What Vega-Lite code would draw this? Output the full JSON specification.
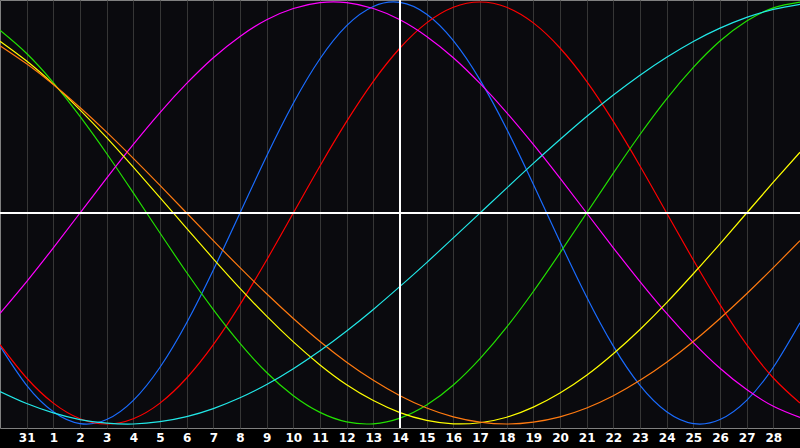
{
  "$schema": "https://vega.github.io/schema/vega-lite/v6.json",
  "width": 800,
  "height": 428,
  "padding": {"left": 0, "top": 0, "right": 0, "bottom": 20},
  "autosize": {"type": "none"},
  "background": "#000000",
  "config": {
    "view": {"fill": "#0a0a0e", "stroke": "#808080", "strokeWidth": 1},
    "axisX": {
      "labelOverlap": false,
      "labelFlush": false,
      "labelColor": "#ffffff",
      "labelFont": "DejaVu Sans",
      "labelFontWeight": "bold",
      "labelFontSize": 12,
      "labelPadding": 4,
      "labelDx": -2,
      "grid": true,
      "gridColor": "#363636",
      "gridWidth": 1,
      "ticks": false,
      "domain": false,
      "title": null
    }
  },
  "datasets": {
    "curves": [
      {"d": -1, "s": "B", "v": -0.631}, {"d": 0, "s": "B", "v": -0.817}, {"d": 1, "s": "B", "v": -0.942}, {"d": 2, "s": "B", "v": -0.998}, {"d": 3, "s": "B", "v": -0.979}, {"d": 4, "s": "B", "v": -0.888}, {"d": 5, "s": "B", "v": -0.731}, {"d": 6, "s": "B", "v": -0.52}, {"d": 7, "s": "B", "v": -0.27}, {"d": 8, "s": "B", "v": 0}, {"d": 9, "s": "B", "v": 0.27}, {"d": 10, "s": "B", "v": 0.52}, {"d": 11, "s": "B", "v": 0.731}, {"d": 12, "s": "B", "v": 0.888}, {"d": 13, "s": "B", "v": 0.979}, {"d": 14, "s": "B", "v": 0.998}, {"d": 15, "s": "B", "v": 0.942}, {"d": 16, "s": "B", "v": 0.817}, {"d": 17, "s": "B", "v": 0.631}, {"d": 18, "s": "B", "v": 0.398}, {"d": 19, "s": "B", "v": 0.136}, {"d": 20, "s": "B", "v": -0.136}, {"d": 21, "s": "B", "v": -0.398}, {"d": 22, "s": "B", "v": -0.631}, {"d": 23, "s": "B", "v": -0.817}, {"d": 24, "s": "B", "v": -0.942}, {"d": 25, "s": "B", "v": -0.998}, {"d": 26, "s": "B", "v": -0.979}, {"d": 27, "s": "B", "v": -0.888}, {"d": 28, "s": "B", "v": -0.731}, {"d": 29, "s": "B", "v": -0.52},
      {"d": -1, "s": "R", "v": -0.624}, {"d": 0, "s": "R", "v": -0.782}, {"d": 1, "s": "R", "v": -0.901}, {"d": 2, "s": "R", "v": -0.975}, {"d": 3, "s": "R", "v": -1}, {"d": 4, "s": "R", "v": -0.975}, {"d": 5, "s": "R", "v": -0.901}, {"d": 6, "s": "R", "v": -0.782}, {"d": 7, "s": "R", "v": -0.624}, {"d": 8, "s": "R", "v": -0.434}, {"d": 9, "s": "R", "v": -0.223}, {"d": 10, "s": "R", "v": 0}, {"d": 11, "s": "R", "v": 0.223}, {"d": 12, "s": "R", "v": 0.434}, {"d": 13, "s": "R", "v": 0.624}, {"d": 14, "s": "R", "v": 0.782}, {"d": 15, "s": "R", "v": 0.901}, {"d": 16, "s": "R", "v": 0.975}, {"d": 17, "s": "R", "v": 1}, {"d": 18, "s": "R", "v": 0.975}, {"d": 19, "s": "R", "v": 0.901}, {"d": 20, "s": "R", "v": 0.782}, {"d": 21, "s": "R", "v": 0.624}, {"d": 22, "s": "R", "v": 0.434}, {"d": 23, "s": "R", "v": 0.223}, {"d": 24, "s": "R", "v": 0}, {"d": 25, "s": "R", "v": -0.223}, {"d": 26, "s": "R", "v": -0.434}, {"d": 27, "s": "R", "v": -0.624}, {"d": 28, "s": "R", "v": -0.782}, {"d": 29, "s": "R", "v": -0.901},
      {"d": -1, "s": "G", "v": 0.866}, {"d": 0, "s": "G", "v": 0.756}, {"d": 1, "s": "G", "v": 0.618}, {"d": 2, "s": "G", "v": 0.458}, {"d": 3, "s": "G", "v": 0.282}, {"d": 4, "s": "G", "v": 0.095}, {"d": 5, "s": "G", "v": -0.095}, {"d": 6, "s": "G", "v": -0.282}, {"d": 7, "s": "G", "v": -0.458}, {"d": 8, "s": "G", "v": -0.618}, {"d": 9, "s": "G", "v": -0.756}, {"d": 10, "s": "G", "v": -0.866}, {"d": 11, "s": "G", "v": -0.945}, {"d": 12, "s": "G", "v": -0.99}, {"d": 13, "s": "G", "v": -0.999}, {"d": 14, "s": "G", "v": -0.972}, {"d": 15, "s": "G", "v": -0.91}, {"d": 16, "s": "G", "v": -0.815}, {"d": 17, "s": "G", "v": -0.69}, {"d": 18, "s": "G", "v": -0.541}, {"d": 19, "s": "G", "v": -0.372}, {"d": 20, "s": "G", "v": -0.189}, {"d": 21, "s": "G", "v": 0}, {"d": 22, "s": "G", "v": 0.189}, {"d": 23, "s": "G", "v": 0.372}, {"d": 24, "s": "G", "v": 0.541}, {"d": 25, "s": "G", "v": 0.69}, {"d": 26, "s": "G", "v": 0.815}, {"d": 27, "s": "G", "v": 0.91}, {"d": 28, "s": "G", "v": 0.972}, {"d": 29, "s": "G", "v": 0.999},
      {"d": -1, "s": "M", "v": -0.476}, {"d": 0, "s": "M", "v": -0.325}, {"d": 1, "s": "M", "v": -0.165}, {"d": 2, "s": "M", "v": 0}, {"d": 3, "s": "M", "v": 0.165}, {"d": 4, "s": "M", "v": 0.325}, {"d": 5, "s": "M", "v": 0.476}, {"d": 6, "s": "M", "v": 0.614}, {"d": 7, "s": "M", "v": 0.736}, {"d": 8, "s": "M", "v": 0.837}, {"d": 9, "s": "M", "v": 0.916}, {"d": 10, "s": "M", "v": 0.969}, {"d": 11, "s": "M", "v": 0.997}, {"d": 12, "s": "M", "v": 0.997}, {"d": 13, "s": "M", "v": 0.969}, {"d": 14, "s": "M", "v": 0.916}, {"d": 15, "s": "M", "v": 0.837}, {"d": 16, "s": "M", "v": 0.736}, {"d": 17, "s": "M", "v": 0.614}, {"d": 18, "s": "M", "v": 0.476}, {"d": 19, "s": "M", "v": 0.325}, {"d": 20, "s": "M", "v": 0.165}, {"d": 21, "s": "M", "v": 0}, {"d": 22, "s": "M", "v": -0.165}, {"d": 23, "s": "M", "v": -0.325}, {"d": 24, "s": "M", "v": -0.476}, {"d": 25, "s": "M", "v": -0.614}, {"d": 26, "s": "M", "v": -0.736}, {"d": 27, "s": "M", "v": -0.837}, {"d": 28, "s": "M", "v": -0.916}, {"d": 29, "s": "M", "v": -0.969},
      {"d": -1, "s": "Y", "v": 0.814}, {"d": 0, "s": "Y", "v": 0.72}, {"d": 1, "s": "Y", "v": 0.611}, {"d": 2, "s": "Y", "v": 0.489}, {"d": 3, "s": "Y", "v": 0.357}, {"d": 4, "s": "Y", "v": 0.217}, {"d": 5, "s": "Y", "v": 0.073}, {"d": 6, "s": "Y", "v": -0.073}, {"d": 7, "s": "Y", "v": -0.217}, {"d": 8, "s": "Y", "v": -0.357}, {"d": 9, "s": "Y", "v": -0.489}, {"d": 10, "s": "Y", "v": -0.611}, {"d": 11, "s": "Y", "v": -0.72}, {"d": 12, "s": "Y", "v": -0.814}, {"d": 13, "s": "Y", "v": -0.889}, {"d": 14, "s": "Y", "v": -0.946}, {"d": 15, "s": "Y", "v": -0.983}, {"d": 16, "s": "Y", "v": -0.999}, {"d": 17, "s": "Y", "v": -0.994}, {"d": 18, "s": "Y", "v": -0.968}, {"d": 19, "s": "Y", "v": -0.92}, {"d": 20, "s": "Y", "v": -0.853}, {"d": 21, "s": "Y", "v": -0.769}, {"d": 22, "s": "Y", "v": -0.667}, {"d": 23, "s": "Y", "v": -0.552}, {"d": 24, "s": "Y", "v": -0.425}, {"d": 25, "s": "Y", "v": -0.288}, {"d": 26, "s": "Y", "v": -0.146}, {"d": 27, "s": "Y", "v": 0}, {"d": 28, "s": "Y", "v": 0.146}, {"d": 29, "s": "Y", "v": 0.288},
      {"d": -1, "s": "O", "v": 0.793}, {"d": 0, "s": "O", "v": 0.707}, {"d": 1, "s": "O", "v": 0.609}, {"d": 2, "s": "O", "v": 0.5}, {"d": 3, "s": "O", "v": 0.383}, {"d": 4, "s": "O", "v": 0.259}, {"d": 5, "s": "O", "v": 0.131}, {"d": 6, "s": "O", "v": 0}, {"d": 7, "s": "O", "v": -0.131}, {"d": 8, "s": "O", "v": -0.259}, {"d": 9, "s": "O", "v": -0.383}, {"d": 10, "s": "O", "v": -0.5}, {"d": 11, "s": "O", "v": -0.609}, {"d": 12, "s": "O", "v": -0.707}, {"d": 13, "s": "O", "v": -0.793}, {"d": 14, "s": "O", "v": -0.866}, {"d": 15, "s": "O", "v": -0.924}, {"d": 16, "s": "O", "v": -0.966}, {"d": 17, "s": "O", "v": -0.991}, {"d": 18, "s": "O", "v": -1}, {"d": 19, "s": "O", "v": -0.991}, {"d": 20, "s": "O", "v": -0.966}, {"d": 21, "s": "O", "v": -0.924}, {"d": 22, "s": "O", "v": -0.866}, {"d": 23, "s": "O", "v": -0.793}, {"d": 24, "s": "O", "v": -0.707}, {"d": 25, "s": "O", "v": -0.609}, {"d": 26, "s": "O", "v": -0.5}, {"d": 27, "s": "O", "v": -0.383}, {"d": 28, "s": "O", "v": -0.259}, {"d": 29, "s": "O", "v": -0.131},
      {"d": -1, "s": "C", "v": -0.846}, {"d": 0, "s": "C", "v": -0.903}, {"d": 1, "s": "C", "v": -0.947}, {"d": 2, "s": "C", "v": -0.979}, {"d": 3, "s": "C", "v": -0.996}, {"d": 4, "s": "C", "v": -1}, {"d": 5, "s": "C", "v": -0.989}, {"d": 6, "s": "C", "v": -0.965}, {"d": 7, "s": "C", "v": -0.927}, {"d": 8, "s": "C", "v": -0.876}, {"d": 9, "s": "C", "v": -0.813}, {"d": 10, "s": "C", "v": -0.738}, {"d": 11, "s": "C", "v": -0.653}, {"d": 12, "s": "C", "v": -0.559}, {"d": 13, "s": "C", "v": -0.457}, {"d": 14, "s": "C", "v": -0.348}, {"d": 15, "s": "C", "v": -0.235}, {"d": 16, "s": "C", "v": -0.118}, {"d": 17, "s": "C", "v": 0}, {"d": 18, "s": "C", "v": 0.118}, {"d": 19, "s": "C", "v": 0.235}, {"d": 20, "s": "C", "v": 0.348}, {"d": 21, "s": "C", "v": 0.457}, {"d": 22, "s": "C", "v": 0.559}, {"d": 23, "s": "C", "v": 0.653}, {"d": 24, "s": "C", "v": 0.738}, {"d": 25, "s": "C", "v": 0.813}, {"d": 26, "s": "C", "v": 0.876}, {"d": 27, "s": "C", "v": 0.927}, {"d": 28, "s": "C", "v": 0.965}, {"d": 29, "s": "C", "v": 0.989}
    ],
    "today": [{"d": 14}],
    "zero": [{"v": 0}]
  },
  "layer": [
    {
      "data": {"name": "curves"},
      "mark": {"type": "line", "strokeWidth": 1.2, "interpolate": "natural", "clip": true},
      "encoding": {
        "x": {
          "field": "d",
          "type": "quantitative",
          "scale": {"domain": [-1, 29], "nice": false, "zero": false},
          "axis": {
            "values": [0, 1, 2, 3, 4, 5, 6, 7, 8, 9, 10, 11, 12, 13, 14, 15, 16, 17, 18, 19, 20, 21, 22, 23, 24, 25, 26, 27, 28],
            "labelExpr": "datum.value == 0 ? '31' : datum.label",
            "labelOverlap": false
          }
        },
        "y": {
          "field": "v",
          "type": "quantitative",
          "scale": {"domain": [-1.019, 1.0095], "nice": false, "zero": false},
          "axis": null
        },
        "color": {
          "field": "s",
          "type": "nominal",
          "scale": {
            "domain": ["C", "O", "Y", "M", "G", "R", "B"],
            "range": ["#22e8e8", "#ff7a10", "#ffff00", "#ff00ff", "#22e000", "#ff0000", "#1a6cff"]
          },
          "legend": null
        }
      }
    },
    {
      "data": {"name": "today"},
      "mark": {"type": "rule", "color": "#ffffff", "strokeWidth": 2},
      "encoding": {
        "x": {
          "field": "d",
          "type": "quantitative",
          "axis": {
            "values": [0, 1, 2, 3, 4, 5, 6, 7, 8, 9, 10, 11, 12, 13, 14, 15, 16, 17, 18, 19, 20, 21, 22, 23, 24, 25, 26, 27, 28],
            "labelExpr": "datum.value == 0 ? '31' : datum.label",
            "labelOverlap": false
          }
        }
      }
    },
    {
      "data": {"name": "zero"},
      "mark": {"type": "rule", "color": "#ffffff", "strokeWidth": 2},
      "encoding": {"y": {"field": "v", "type": "quantitative"}}
    }
  ]
}
